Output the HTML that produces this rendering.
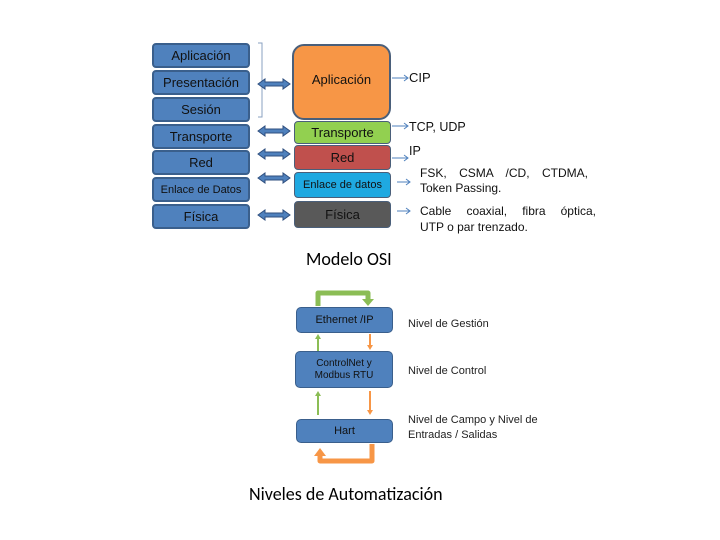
<!DOCTYPE html>
<html><head><meta charset="utf-8"><style>
body{margin:0;width:720px;height:540px;background:#fff;position:relative;font-family:"Liberation Sans",sans-serif;overflow:hidden}
.b{position:absolute;box-sizing:border-box;display:flex;align-items:center;justify-content:center;text-align:center;color:#111;font-size:13px}
.l{left:152px;width:98px;height:25px;background:#4f81bd;border:2px solid #3a5f8c;border-radius:4px}
.t{position:absolute;font-size:12.5px;color:#111}
.c{position:absolute;font-family:"Carlito","Liberation Sans",sans-serif;color:#000}
.n{position:absolute;font-size:11px;color:#222}
</style></head><body>
<div class="b l" style="top:43px">Aplicación</div>
<div class="b l" style="top:70px">Presentación</div>
<div class="b l" style="top:97px">Sesión</div>
<div class="b l" style="top:124px">Transporte</div>
<div class="b l" style="top:150px">Red</div>
<div class="b l" style="top:177px;font-size:11px">Enlace de Datos</div>
<div class="b l" style="top:204px">Física</div>

<div class="b" style="left:292px;top:44px;width:99px;height:76px;background:#f79646;border:2px solid #4a5f7a;border-radius:12px;align-items:flex-start;padding-top:26px">Aplicación</div>
<div class="b" style="left:294px;top:121px;width:97px;height:23px;background:#92d050;border:1.5px solid #4a5f7a;border-radius:4px">Transporte</div>
<div class="b" style="left:294px;top:145px;width:97px;height:25px;background:#c0504d;border:1.5px solid #4a5f7a;border-radius:4px">Red</div>
<div class="b" style="left:294px;top:172px;width:97px;height:26px;background:#1fa9e1;border:1.5px solid #4a5f7a;border-radius:4px;font-size:11px">Enlace de datos</div>
<div class="b" style="left:294px;top:201px;width:97px;height:27px;background:#595959;border:1.5px solid #4a5f7a;border-radius:4px">Física</div>

<svg style="position:absolute;left:0;top:0" width="720" height="540">
<path d="M258,43 H262 V117 H258" fill="none" stroke="#8aa0c0" stroke-width="1"/>
<g fill="#4f81bd" stroke="#2f4f7f" stroke-width="1">
<path id="dbl" d="M258,84 l7,-5 v3 h18 v-3 l7,5 l-7,5 v-3 h-18 v3 z"/>
<use href="#dbl" y="47"/><use href="#dbl" y="70"/><use href="#dbl" y="94"/><use href="#dbl" y="131"/>
</g>
<g stroke="#4f81bd" stroke-width="1" fill="none">
<path d="M392,78 H408 M404,75 L408,78 L404,81"/>
<path d="M392,126 H408 M404,123 L408,126 L404,129"/>
<path d="M392,158 H408 M404,155 L408,158 L404,161"/>
<path d="M397,182 H410 M406,179 L410,182 L406,185"/>
<path d="M397,211 H410 M406,208 L410,211 L406,214"/>
</g>
<path d="M318,306 V293 H368 V300" fill="none" stroke="#8bbd55" stroke-width="5" stroke-linejoin="round"/>
<path d="M362,299 L374,299 L368,306 Z" fill="#8bbd55"/>
<path d="M372,444 V461 H320 V455" fill="none" stroke="#f79646" stroke-width="5" stroke-linejoin="round"/>
<path d="M314,456 L326,456 L320,448 Z" fill="#f79646"/>
<g stroke-width="2">
<path d="M318,351 V338" stroke="#8bbd55"/><path d="M315,339 L321,339 L318,334 Z" fill="#8bbd55"/>
<path d="M318,415 V395" stroke="#8bbd55"/><path d="M315,396 L321,396 L318,391 Z" fill="#8bbd55"/>
<path d="M370,334 V346" stroke="#f79646"/><path d="M367,345 L373,345 L370,350 Z" fill="#f79646"/>
<path d="M370,391 V411" stroke="#f79646"/><path d="M367,410 L373,410 L370,415 Z" fill="#f79646"/>
</g>
</svg>

<div class="t" style="left:409px;top:70px;font-size:13px">CIP</div>
<div class="t" style="left:409px;top:120px">TCP, UDP</div>
<div class="t" style="left:409px;top:144px">IP</div>
<div class="t" style="left:420px;top:166px;width:168px;text-align:justify;text-align-last:justify;line-height:15px;font-size:12px">FSK, CSMA /CD, CTDMA,</div>
<div class="t" style="left:420px;top:181px;font-size:12px">Token Passing.</div>
<div class="t" style="left:420px;top:204px;width:176px;text-align:justify;text-align-last:justify;font-size:12px">Cable coaxial, fibra óptica,</div>
<div class="t" style="left:420px;top:220px;font-size:12px">UTP o par trenzado.</div>

<div class="c" style="left:306px;top:248px;font-size:18px">Modelo OSI</div>

<div class="b" style="left:296px;top:307px;width:97px;height:26px;background:#4f81bd;border:1.5px solid #3a5f8c;border-radius:5px;font-size:11px">Ethernet /IP</div>
<div class="b" style="left:295px;top:351px;width:98px;height:37px;background:#4f81bd;border:1.5px solid #3a5f8c;border-radius:5px;font-size:10px;line-height:12px">ControlNet y<br>Modbus RTU</div>
<div class="b" style="left:296px;top:419px;width:97px;height:24px;background:#4f81bd;border:1.5px solid #3a5f8c;border-radius:5px;font-size:11px">Hart</div>

<div class="n" style="left:408px;top:318px">Nivel de Gestión</div>
<div class="n" style="left:408px;top:365px">Nivel de Control</div>
<div class="n" style="left:408px;top:413px;line-height:15px">Nivel de Campo y Nivel de<br>Entradas / Salidas</div>

<div class="c" style="left:249px;top:483px;font-size:18px">Niveles de Automatización</div>
</body></html>
